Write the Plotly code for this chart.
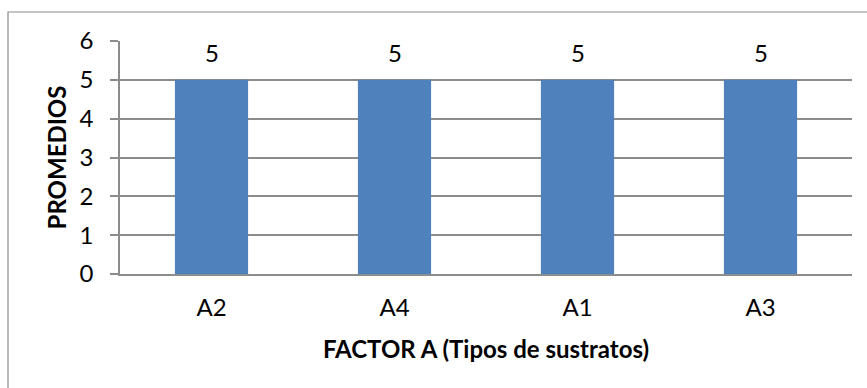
import plotly.graph_objects as go

# Mean values per substrate type (Factor A)
categories = ["A2", "A4", "A1", "A3"]
promedios = [5, 5, 5, 5]
y_ticks = [0, 1, 2, 3, 4, 5, 6]

BAR_COLOR = "#4F81BD"
LINE_GRAY = "#8C8C8C"
FONT = "Lato, Liberation Sans, sans-serif"
FS = 24

fig = go.Figure(
    go.Bar(
        x=categories,
        y=promedios,
        marker=dict(color=BAR_COLOR, line=dict(width=0)),
        hoverinfo="x+y",
    )
)

# Value labels above each bar
for cat, val in zip(categories, promedios):
    fig.add_annotation(
        x=cat, y=val, text=str(val), showarrow=False,
        yshift=27, font=dict(family=FONT, size=FS, color="#000000"),
    )

# Outer chart frame
fig.add_shape(
    type="rect", xref="paper", yref="paper",
    x0=-0.153, x1=1.2, y0=-1.0, y1=1.1245,
    line=dict(color=LINE_GRAY, width=1.2), fillcolor="rgba(0,0,0,0)",
    layer="below",
)

fig.update_layout(
    width=867, height=388,
    margin=dict(l=120, r=15, t=41, b=114),
    paper_bgcolor="white", plot_bgcolor="white",
    bargap=0.6,
    showlegend=False,
    font=dict(family=FONT, size=FS, color="#000000"),
    xaxis=dict(
        title=dict(text="<b>FACTOR A (Tipos de sustratos)</b>", standoff=22,
                   font=dict(family=FONT, size=FS)),
        showline=True, linecolor=LINE_GRAY, linewidth=1.5,
        ticks="", showgrid=False, ticklabelstandoff=11,
        tickfont=dict(family=FONT, size=FS),
    ),
    yaxis=dict(
        title=dict(text="<b>PROMEDIOS</b>", standoff=6,
                   font=dict(family=FONT, size=FS)),
        range=[0, 6], tickvals=y_ticks,
        showline=True, linecolor=LINE_GRAY, linewidth=1.5,
        ticks="outside", ticklen=8, tickcolor=LINE_GRAY, tickwidth=1.5,
        showgrid=True, gridcolor=LINE_GRAY, gridwidth=1.5,
        zeroline=False, ticklabelstandoff=12,
        tickfont=dict(family=FONT, size=FS),
    ),
)

fig.write_html("out.html")
